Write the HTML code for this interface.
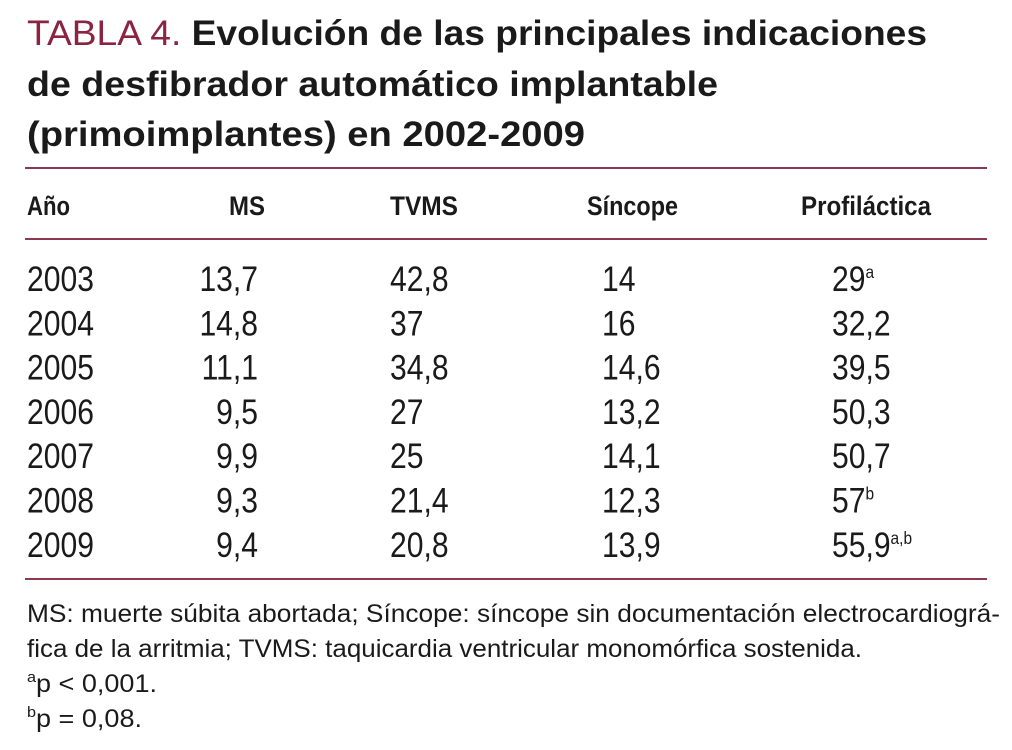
<!DOCTYPE html>
<html><head><meta charset="utf-8"><style>
html,body{margin:0;padding:0;background:#fff;width:1012px;height:750px;overflow:hidden}
svg{display:block}
text{font-family:"Liberation Sans",sans-serif;fill:#1a1a1a}
</style></head><body>
<svg id="tbl" width="1012" height="750" viewBox="0 0 1012 750">
<g>
<text x="27" y="45" font-size="35" textLength="900" lengthAdjust="spacingAndGlyphs"><tspan fill="#8a2443" style="fill:#8a2443">TABLA 4. </tspan><tspan font-weight="bold">Evolución de las principales indicaciones</tspan></text>
<text x="27" y="96" font-size="35" font-weight="bold" textLength="691" lengthAdjust="spacingAndGlyphs">de desfibrador automático implantable</text>
<text x="27" y="146" font-size="35" font-weight="bold" textLength="558" lengthAdjust="spacingAndGlyphs">(primoimplantes) en 2002-2009</text>
</g>
<rect x="25" y="167" width="962" height="2" fill="#8a3a50"/>
<rect x="25" y="238" width="962" height="2" fill="#8a3a50"/>
<rect x="25" y="578" width="962" height="2" fill="#8a3a50"/>
<g font-size="27" font-weight="bold">
<text x="27" y="215" textLength="43" lengthAdjust="spacingAndGlyphs">Año</text>
<text x="229" y="215" textLength="36" lengthAdjust="spacingAndGlyphs">MS</text>
<text x="390" y="215" textLength="68" lengthAdjust="spacingAndGlyphs">TVMS</text>
<text x="587" y="215" textLength="91" lengthAdjust="spacingAndGlyphs">Síncope</text>
<text x="801" y="215" textLength="130" lengthAdjust="spacingAndGlyphs">Profiláctica</text>
</g>
<g id="rows"></g>
<g font-size="25">
<text x="27" y="622" textLength="973" lengthAdjust="spacingAndGlyphs">MS: muerte súbita abortada; Síncope: síncope sin documentación electrocardiográ-</text>
<text x="27" y="657" textLength="835" lengthAdjust="spacingAndGlyphs">fica de la arritmia; TVMS: taquicardia ventricular monomórfica sostenida.</text>
<text x="27" y="692" textLength="130" lengthAdjust="spacingAndGlyphs"><tspan font-size="15" dy="-10">a</tspan><tspan dy="10">p &lt; 0,001.</tspan></text>
<text x="27" y="727" textLength="115" lengthAdjust="spacingAndGlyphs"><tspan font-size="15" dy="-10">b</tspan><tspan dy="10">p = 0,08.</tspan></text>
</g>
</svg>
<script>
const years = ["2003","2004","2005","2006","2007","2008","2009"];
const ms = ["13,7","14,8","11,1","9,5","9,9","9,3","9,4"];
const tvms = ["42,8","37","34,8","27","25","21,4","20,8"];
const sincope = ["14","16","14,6","13,2","14,1","12,3","13,9"];
const profilactica = ["29","32,2","39,5","50,3","50,7","57","55,9"];
const profSup = ["a","","","","","b","a,b"];

const NS = "http://www.w3.org/2000/svg";
const g = document.getElementById('rows');
function rowY(i){ return 291 + i * 44.3; }
function cell(x, y, txt, anchor, name, sup){
  const t = document.createElementNS(NS, 'text');
  
  
  t.setAttribute('font-size', '35');
  t.setAttribute('text-anchor', anchor);
  t.setAttribute('transform', 'translate(' + x + ',' + y + ') scale(0.86,1)');
  t.textContent = txt;
  if (sup) {
    const s = document.createElementNS(NS, 'tspan');
    s.setAttribute('font-size', '18');
    s.setAttribute('dy', '-13');
    s.textContent = sup;
    t.appendChild(s);
  }
  g.appendChild(t);
}
years.forEach((yr, i) => {
  const y = rowY(i);
  cell(27, y, yr, 'start', 'year-' + yr);
  cell(258, y, ms[i], 'end', 'ms-' + yr);
  cell(390, y, tvms[i], 'start', 'tvms-' + yr);
  cell(602, y, sincope[i], 'start', 'sincope-' + yr);
  cell(832, y, profilactica[i], 'start', 'profilactica-' + yr, profSup[i]);
});
</script>
</body></html>
